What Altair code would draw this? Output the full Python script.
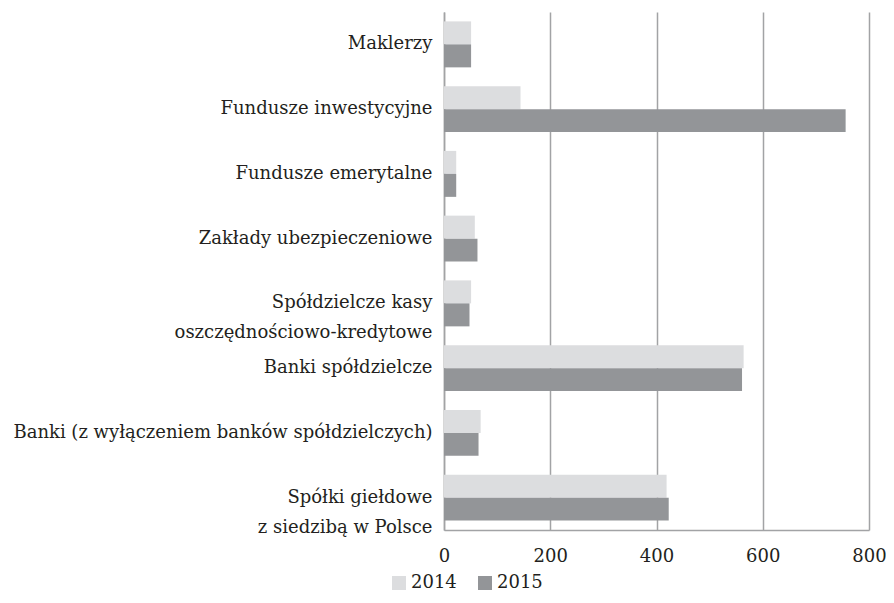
import altair as alt
import pandas as pd

categories = [
    "Maklerzy",
    "Fundusze inwestycyjne",
    "Fundusze emerytalne",
    "Zakłady ubezpieczeniowe",
    "Spółdzielcze kasy|oszczędnościowo-kredytowe",
    "Banki spółdzielcze",
    "Banki (z wyłączeniem banków spółdzielczych)",
    "Spółki giełdowe|z siedzibą w Polsce",
]
values_2014 = [51, 144, 23, 58, 51, 564, 69, 419]
values_2015 = [51, 756, 23, 63, 48, 561, 65, 423]
years = ["2014", "2015"]
colors = ["#dcdddf", "#939598"]
x_ticks = [0, 200, 400, 600, 800]

rows = []
for c, a, b in zip(categories, values_2014, values_2015):
    rows.append({"kat": c, "rok": "2014", "v": a})
    rows.append({"kat": c, "rok": "2015", "v": b})
df = pd.DataFrame(rows)

FONT = "DejaVu Serif"
FS = 18
TXT = "#231f20"
GRID = "#a2a3a5"

chart = alt.Chart(df).mark_bar().encode(
    y=alt.Y(
        "kat:N",
        sort=categories,
        scale=alt.Scale(paddingInner=0.29, paddingOuter=0.145),
        axis=alt.Axis(
            title=None,
            labelExpr="split(datum.label, '|')",
            labelFont=FONT,
            labelFontSize=FS,
            labelColor=TXT,
            labelLimit=460,
            labelPadding=12,
            labelLineHeight=30,
            ticks=False,
            domain=True,
            domainColor=GRID,
            domainWidth=1.5,
            grid=False,
        ),
    ),
    yOffset=alt.YOffset("rok:N", sort=years, scale=alt.Scale(paddingInner=0, paddingOuter=0)),
    x=alt.X(
        "v:Q",
        scale=alt.Scale(domain=[0, 800], nice=False),
        axis=alt.Axis(
            title=None,
            values=x_ticks,
            labelFont=FONT,
            labelFontSize=FS,
            labelColor=TXT,
            labelPadding=17,
            ticks=False,
            domain=True,
            domainColor=GRID,
            domainWidth=1.5,
            grid=True,
            gridColor=GRID,
            gridWidth=1.5,
            gridOpacity=1,
            labelFlush=False,
        ),
    ),
    color=alt.Color(
        "rok:N",
        sort=years,
        scale=alt.Scale(domain=years, range=colors),
        legend=alt.Legend(
            title=None,
            orient="none",
            legendX=-54,
            legendY=562,
            direction="horizontal",
            symbolType="square",
            symbolSize=196,
            symbolStrokeWidth=0,
            symbolOpacity=1,
            labelFont=FONT,
            labelFontSize=FS,
            labelColor=TXT,
            labelOffset=3,
            columnPadding=19,
            padding=0,
        ),
    ),
).properties(
    width=425,
    height=518,
    autosize=alt.AutoSizeParams(type="none"),
    padding={"left": 436, "top": 4, "right": 17, "bottom": 65},
).configure_view(stroke=None)

chart.save("out.html", embed_options={"renderer": "svg", "actions": False})
